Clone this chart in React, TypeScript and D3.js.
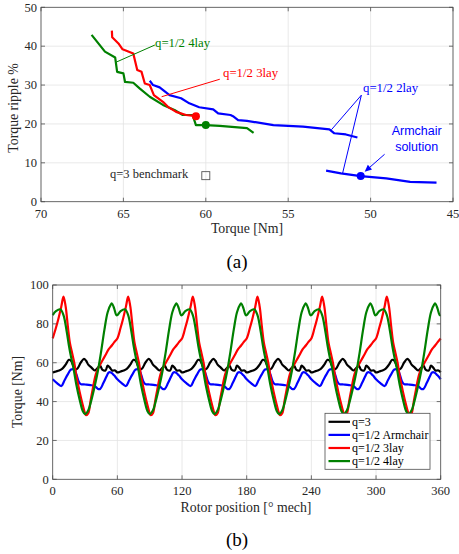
import React from "react";
import * as d3 from "d3";

// ---------- (a) Torque ripple vs torque ----------
const lay4Torque = [66.93, 66.12, 65.5, 65.38, 65.0, 64.9, 64.4, 64.0, 63.4, 62.6, 61.9, 61.4, 60.8, 60.6, 60.0, 59.15, 57.5, 57.1];
const lay4Ripple = [42.9, 38.6, 37.1, 33.4, 33.0, 30.8, 30.6, 29.1, 27.0, 24.9, 23.6, 22.3, 22.3, 19.7, 19.7, 19.5, 18.9, 17.7];
const lay3Torque = [65.7, 65.68, 65.3, 65.05, 64.4, 64.16, 63.9, 63.7, 63.4, 63.15, 62.6, 62.3, 61.8, 61.2, 60.6];
const lay3Ripple = [44.0, 42.3, 40.7, 39.2, 38.1, 33.9, 33.4, 30.4, 30.0, 27.4, 25.7, 24.4, 23.1, 22.3, 22.0];
const lay2UpperTorque = [63.4, 63.2, 62.8, 62.2, 61.5, 61.0, 60.4, 59.55, 59.25, 58.5, 58.35, 58.04, 57.5, 55.9, 54.1, 52.5, 52.2, 51.5, 50.8];
const lay2UpperRipple = [31.1, 30.0, 29.4, 27.4, 26.6, 25.3, 24.3, 23.75, 22.7, 22.3, 22.0, 21.0, 20.8, 19.7, 19.3, 18.6, 17.6, 17.3, 16.5];
const lay2LowerTorque = [52.7, 51.8, 50.6, 49.05, 47.6, 46.0];
const lay2LowerRipple = [8.0, 7.3, 6.6, 6.0, 5.1, 4.9];
const lay3Best = [60.6, 22.0];
const lay4Best = [60.0, 19.7];
const armchairPoint = [50.6, 6.6];
const benchmarkPoint = [60.0, 6.7];
const xTicksA = [70, 65, 60, 55, 50, 45];
const yTicksA = [0, 10, 20, 30, 40, 50];

// ---------- (b) Torque vs rotor position (one 60° period, repeated) ----------
const periodDeg = 60;
const posRed = [0, 3, 5, 8, 10, 12, 14, 16, 18, 20, 22, 25, 28, 30, 31, 33, 35, 37, 40, 43, 46, 49, 52, 55, 57, 60];
const torqueRed = [72.5, 78, 82, 89, 94, 89, 79, 70, 65, 60, 53, 45, 38, 34, 33, 34, 40, 46, 54, 58, 61, 64, 67, 69, 70.5, 72.5];
const posGreen = [0, 3, 7, 10, 13, 15, 17, 19, 22, 25, 28, 30, 33, 36, 39, 42, 45, 48, 51, 54, 55, 57, 59, 60];
const torqueGreen = [84.5, 86.5, 87.5, 84.5, 76, 69, 63, 58, 48.5, 41, 35, 33.5, 35.5, 41, 48, 56, 66, 77, 86, 90, 90.5, 88, 84.5, 84.5];
const posBlack = [0, 3, 6, 9, 12, 15, 17, 19, 21, 23, 26, 29, 31, 33, 36, 39, 42, 44, 46, 49, 51, 53, 55, 58, 60];
const torqueBlack = [55, 55.5, 56, 57, 59, 61.5, 61, 58.5, 56.5, 57, 60, 62, 61, 59, 57.5, 56, 57.5, 58.5, 56.5, 56, 58.5, 57.5, 56, 56, 55];
const posBlue = [0, 4, 8, 11, 14, 17, 20, 22, 24, 26, 30, 35, 39, 42, 44, 47, 50, 52, 54, 57, 60];
const torqueBlue = [51.5, 49.5, 48, 51, 54, 56.5, 56.5, 54, 50.5, 49, 48.8, 48.5, 48, 46.5, 46.5, 49.5, 53, 55, 55, 53.5, 51.5];
const xTicksB = [0, 60, 120, 180, 240, 300, 360];
const yTicksB = [0, 20, 40, 60, 80, 100];
const legendLabels = ["q=3", "q=1/2 Armchair", "q=1/2 3lay", "q=1/2 4lay"];

const BLUE = "#0000ff";
const RED = "#ff0000";
const GREEN = "#008000";
const BLACK = "#000000";
const AXIS = "#4d4d4d";
const GRID = "#e3e3e3";
const TXT = "#262626";
const SERIF = "'Liberation Serif', 'Times New Roman', serif";
const SANS = "'Liberation Sans', Arial, sans-serif";

function zip(a: number[], b: number[]): [number, number][] {
  return a.map((v, i) => [v, b[i]] as [number, number]);
}
function repeatPeriod(pos: number[], val: number[], total: number): [number, number][] {
  const out: [number, number][] = [];
  const n = Math.round(total / periodDeg);
  for (let k = 0; k < n; k++) {
    pos.forEach((p, i) => {
      if (k > 0 && i === 0) return;
      out.push([p + k * periodDeg, val[i]]);
    });
  }
  return out;
}

export default function App() {
  // scales for (a)
  const xA = d3.scaleLinear().domain([70, 45]).range([41, 453]);
  const yA = d3.scaleLinear().domain([0, 50]).range([201.7, 7.3]);
  // scales for (b)
  const xB = d3.scaleLinear().domain([0, 360]).range([52.7, 440.7]);
  const yB = d3.scaleLinear().domain([0, 100]).range([479.3, 285]);

  const lineA = d3.line<[number, number]>().x((d) => xA(d[0])).y((d) => yA(d[1]));
  const lineB = d3
    .line<[number, number]>()
    .x((d) => xB(d[0]))
    .y((d) => yB(d[1]))
    .curve(d3.curveCatmullRom.alpha(0.5));

  const seriesB = [
    { name: legendLabels[0], color: BLACK, data: repeatPeriod(posBlack, torqueBlack, 360) },
    { name: legendLabels[1], color: BLUE, data: repeatPeriod(posBlue, torqueBlue, 360) },
    { name: legendLabels[2], color: RED, data: repeatPeriod(posRed, torqueRed, 360) },
    { name: legendLabels[3], color: GREEN, data: repeatPeriod(posGreen, torqueGreen, 360) },
  ];

  const tick = 4;

  const axesFrame = (
    x: d3.ScaleLinear<number, number>,
    y: d3.ScaleLinear<number, number>,
    xt: number[],
    yt: number[],
    key: string
  ) => {
    const [x0, x1] = x.range();
    const [y0, y1] = y.range();
    return (
      <g key={key}>
        <rect x={x0} y={y1} width={x1 - x0} height={y0 - y1} fill="#fff" />
        {xt.map((t) => (
          <line key={"gx" + t} x1={x(t)} x2={x(t)} y1={y0} y2={y1} stroke={GRID} strokeWidth={0.8} />
        ))}
        {yt.map((t) => (
          <line key={"gy" + t} x1={x0} x2={x1} y1={y(t)} y2={y(t)} stroke={GRID} strokeWidth={0.8} />
        ))}
      </g>
    );
  };

  const axesBox = (
    x: d3.ScaleLinear<number, number>,
    y: d3.ScaleLinear<number, number>,
    xt: number[],
    yt: number[],
    key: string
  ) => {
    const [x0, x1] = x.range();
    const [y0, y1] = y.range();
    return (
      <g key={key}>
        <rect x={x0} y={y1} width={x1 - x0} height={y0 - y1} fill="none" stroke={AXIS} strokeWidth={0.8} />
        {xt.map((t) => (
          <g key={"tx" + t}>
            <line x1={x(t)} x2={x(t)} y1={y0} y2={y0 - tick} stroke={AXIS} strokeWidth={0.8} />
            <line x1={x(t)} x2={x(t)} y1={y1} y2={y1 + tick} stroke={AXIS} strokeWidth={0.8} />
            <text x={x(t)} y={y0 + 16} textAnchor="middle" fontFamily={SERIF} fontSize={12.5} fill={TXT}>
              {t}
            </text>
          </g>
        ))}
        {yt.map((t) => (
          <g key={"ty" + t}>
            <line x1={x0} x2={x0 + tick} y1={y(t)} y2={y(t)} stroke={AXIS} strokeWidth={0.8} />
            <line x1={x1} x2={x1 - tick} y1={y(t)} y2={y(t)} stroke={AXIS} strokeWidth={0.8} />
            <text x={x0 - 4} y={y(t) + 4.3} textAnchor="end" fontFamily={SERIF} fontSize={12.5} fill={TXT}>
              {t}
            </text>
          </g>
        ))}
      </g>
    );
  };

  // annotation helpers (data coords -> pixels via scales)
  const lbl4From = [xA(63.09), yA(40.3)];
  const lbl4To = [xA(65.41), yA(35.95)];
  const lbl3From = [xA(59.15), yA(31.5)];
  const lbl3To = [xA(62.68), yA(27.0)];
  const lbl2From = [xA(50.56), yA(27.4)];
  const lbl2ToA = [xA(52.38), yA(18.5)];
  const lbl2ToB = [xA(51.7), yA(7.3)];
  const arrFrom = [xA(49.15), yA(12.2)];
  const arrTo = [xA(50.36), yA(7.7)];
  const ang = Math.atan2(arrTo[1] - arrFrom[1], arrTo[0] - arrFrom[0]);
  const ah = 7;
  const aw = 3.2;
  const bx = arrTo[0] - ah * Math.cos(ang);
  const by = arrTo[1] - ah * Math.sin(ang);
  const arrowHead = [
    [arrTo[0], arrTo[1]],
    [bx + aw * Math.sin(ang), by - aw * Math.cos(ang)],
    [bx - aw * Math.sin(ang), by + aw * Math.cos(ang)],
  ]
    .map((p) => p.join(","))
    .join(" ");

  const legX = 325;
  const legY = 413.3;
  const legW = 105;
  const legH = 56;

  return (
    <svg
      width={459}
      height={554}
      viewBox="0 0 459 554"
      style={{ position: "absolute", left: 0, top: 0, background: "#fff" }}
    >
      <rect x={0} y={0} width={459} height={554} fill="#fff" />

      {/* ---------------- (a) ---------------- */}
      {axesFrame(xA, yA, xTicksA, yTicksA, "fa")}
      <path d={lineA(zip(lay4Torque, lay4Ripple)) || ""} fill="none" stroke={GREEN} strokeWidth={2.2} strokeLinejoin="round" />
      <path d={lineA(zip(lay3Torque, lay3Ripple)) || ""} fill="none" stroke={RED} strokeWidth={2.2} strokeLinejoin="round" />
      <path d={lineA(zip(lay2UpperTorque, lay2UpperRipple)) || ""} fill="none" stroke={BLUE} strokeWidth={2.2} strokeLinejoin="round" />
      <path d={lineA(zip(lay2LowerTorque, lay2LowerRipple)) || ""} fill="none" stroke={BLUE} strokeWidth={2.2} strokeLinejoin="round" />
      <circle cx={xA(lay3Best[0])} cy={yA(lay3Best[1])} r={4} fill={RED} />
      <circle cx={xA(lay4Best[0])} cy={yA(lay4Best[1])} r={4} fill={GREEN} />
      <circle cx={xA(armchairPoint[0])} cy={yA(armchairPoint[1])} r={4} fill={BLUE} />
      <rect x={xA(benchmarkPoint[0]) - 4} y={yA(benchmarkPoint[1]) - 4} width={8} height={8} fill="none" stroke="#555" strokeWidth={0.9} />

      {/* annotations */}
      <line x1={lbl4From[0]} y1={lbl4From[1]} x2={lbl4To[0]} y2={lbl4To[1]} stroke={GREEN} strokeWidth={1} />
      <text x={155} y={47} fontFamily={SERIF} fontSize={12.8} fill={GREEN}>q=1/2 4lay</text>
      <line x1={lbl3From[0]} y1={lbl3From[1]} x2={lbl3To[0]} y2={lbl3To[1]} stroke={RED} strokeWidth={1} />
      <text x={223} y={77} fontFamily={SERIF} fontSize={12.8} fill={RED}>q=1/2 3lay</text>
      <line x1={lbl2From[0]} y1={lbl2From[1]} x2={lbl2ToA[0]} y2={lbl2ToA[1]} stroke={BLUE} strokeWidth={1} />
      <line x1={lbl2From[0]} y1={lbl2From[1]} x2={lbl2ToB[0]} y2={lbl2ToB[1]} stroke={BLUE} strokeWidth={1} />
      <text x={363} y={92} fontFamily={SERIF} fontSize={12.8} fill={BLUE}>q=1/2 2lay</text>
      <line x1={arrFrom[0]} y1={arrFrom[1]} x2={bx} y2={by} stroke={BLUE} strokeWidth={1} />
      <polygon points={arrowHead} fill={BLUE} />
      <text x={416.7} y={135} textAnchor="middle" fontFamily={SANS} fontSize={12.5} fill={BLUE}>Armchair</text>
      <text x={416.7} y={150.5} textAnchor="middle" fontFamily={SANS} fontSize={12.5} fill={BLUE}>solution</text>
      <text x={110} y={178} fontFamily={SERIF} fontSize={12.5} fill={TXT}>q=3 benchmark</text>

      {axesBox(xA, yA, xTicksA, yTicksA, "ba")}
      <text x={247} y={233} textAnchor="middle" fontFamily={SERIF} fontSize={13.8} fill={TXT}>Torque [Nm]</text>
      <text
        transform={`translate(18,${108}) rotate(-90)`}
        textAnchor="middle"
        fontFamily={SERIF}
        fontSize={13.8}
        fill={TXT}
      >
        Torque ripple %
      </text>
      <text x={237} y={268} textAnchor="middle" fontFamily={SERIF} fontSize={19} fill="#000">(a)</text>

      {/* ---------------- (b) ---------------- */}
      {axesFrame(xB, yB, xTicksB, yTicksB, "fb")}
      {seriesB.map((s) => (
        <path key={s.name} d={lineB(s.data) || ""} fill="none" stroke={s.color} strokeWidth={2.2} strokeLinejoin="round" />
      ))}
      {axesBox(xB, yB, xTicksB, yTicksB, "bb")}

      {/* legend */}
      <rect x={legX} y={legY} width={legW} height={legH} fill="#fff" stroke={AXIS} strokeWidth={0.8} />
      {seriesB.map((s, i) => {
        const yy = legY + 8.5 + i * 13.1;
        return (
          <g key={"lg" + s.name}>
            <line x1={legX + 3.5} x2={legX + 25} y1={yy} y2={yy} stroke={s.color} strokeWidth={2.2} />
            <text x={legX + 27} y={yy + 4} fontFamily={SERIF} fontSize={12} fill="#000">
              {s.name}
            </text>
          </g>
        );
      })}

      <text x={246} y={512} textAnchor="middle" fontFamily={SERIF} fontSize={13.8} fill={TXT}>Rotor position [° mech]</text>
      <text
        transform={`translate(22,${392}) rotate(-90)`}
        textAnchor="middle"
        fontFamily={SERIF}
        fontSize={13.8}
        fill={TXT}
      >
        Torque [Nm]
      </text>
      <text x={237} y={546} textAnchor="middle" fontFamily={SERIF} fontSize={19} fill="#000">(b)</text>
    </svg>
  );
}
